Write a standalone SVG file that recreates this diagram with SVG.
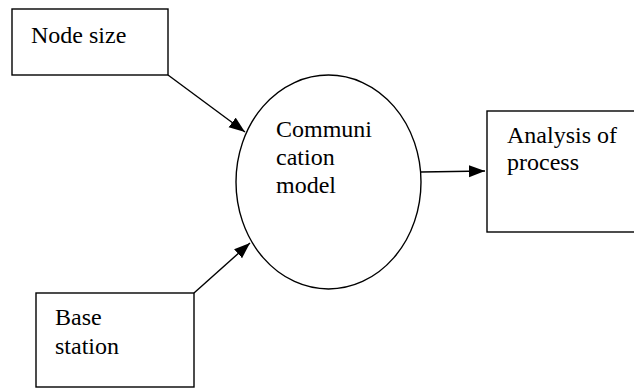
<svg xmlns="http://www.w3.org/2000/svg" width="634" height="388" viewBox="0 0 634 388">
<style>
.box{fill:#fff;stroke:#000;stroke-width:1.4}
.t{font-family:"Liberation Serif","Times New Roman",serif;font-size:24px;fill:#000}
.c{stroke:#000;stroke-width:1.4;fill:none}
</style>
<defs>
<marker id="ah" markerUnits="userSpaceOnUse" markerWidth="18" markerHeight="14" refX="16" refY="6" orient="auto">
<path d="M0,0 L16,6 L0,12 Z" fill="#000"/>
</marker>
</defs>
<rect width="634" height="388" fill="#fff"/>
<g id="connectors">
<line class="c" x1="168" y1="75" x2="245" y2="132" marker-end="url(#ah)"/>
<line class="c" x1="194" y1="293" x2="250" y2="243" marker-end="url(#ah)"/>
<line class="c" x1="421" y1="172" x2="485" y2="171" marker-end="url(#ah)"/>
</g>
<g id="node-size">
<rect class="box" x="12" y="9" width="156" height="66"/>
<text class="t" x="31" y="43">Node size</text>
</g>
<g id="communication-model">
<ellipse class="box" cx="328.5" cy="182" rx="92.5" ry="107"/>
<text class="t" x="276" y="137">Communi</text>
<text class="t" x="276" y="165">cation</text>
<text class="t" x="276" y="193">model</text>
</g>
<g id="analysis">
<rect class="box" x="487" y="111" width="160" height="121"/>
<text class="t" x="507" y="143">Analysis of</text>
<text class="t" x="507" y="170">process</text>
</g>
<g id="base-station">
<rect class="box" x="36" y="293" width="158" height="94"/>
<text class="t" x="55" y="325">Base</text>
<text class="t" x="55" y="354">station</text>
</g>
</svg>
